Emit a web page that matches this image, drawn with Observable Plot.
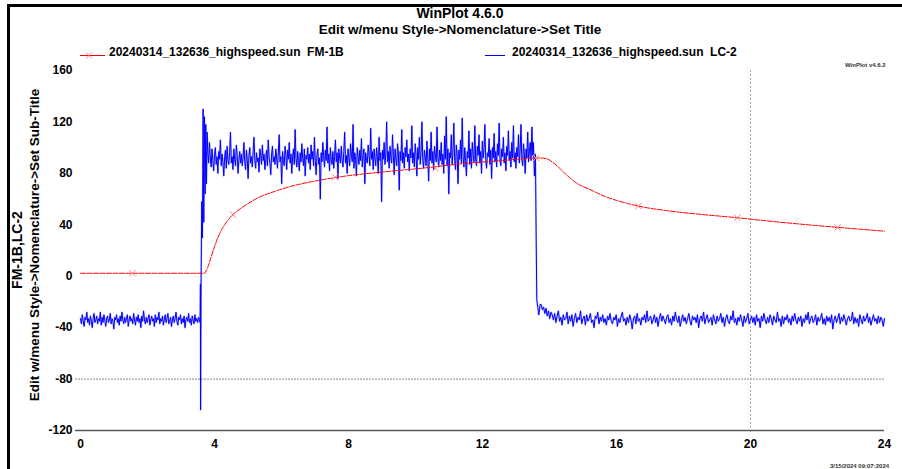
<!DOCTYPE html>
<html><head><meta charset="utf-8">
<script src="https://cdn.jsdelivr.net/npm/d3@7"></script>
<script src="https://cdn.jsdelivr.net/npm/@observablehq/plot@0.6"></script>
<style>
body{margin:0;background:#fff;}
#wrap{position:relative;width:902px;height:469px;overflow:hidden;background:#fff;font-family:"Liberation Sans",Arial,sans-serif;font-weight:bold;color:#000;}
.abs{position:absolute;white-space:pre;}
</style></head><body>
<div id="wrap">
  <div id="chart" class="abs" style="left:0;top:0"></div>
  <div class="abs" style="left:7px;top:4px;width:3px;height:470px;background:#000"></div>
  <div class="abs" style="left:7px;top:4px;width:900px;height:3px;background:#000"></div>
  <div id="title" class="abs" style="left:0;width:920px;top:5px;text-align:center;font-size:14px"></div>
  <div id="subtitle" class="abs" style="left:0;width:920px;top:22px;text-align:center;font-size:13.5px"></div>
  <div id="legend"></div>
  <div id="ylab1" class="abs" style="left:17px;top:250px;transform:translate(-50%,-50%) rotate(-90deg);font-size:14px"></div>
  <div id="ylab2" class="abs" style="left:34px;top:245px;transform:translate(-50%,-50%) rotate(-90deg);font-size:13.5px"></div>
  <div id="ver" class="abs" style="left:845px;top:62px;font-size:6px;color:#333"></div>
  <div id="stamp" class="abs" style="left:830px;top:463px;font-size:6px;color:#333"></div>
</div>
<script>
// ---------- texts ----------
const titleText = "WinPlot 4.6.0";
const subtitleText = "Edit w/menu Style->Nomenclature->Set Title";
const yLabel1 = "FM-1B,LC-2";
const yLabel2 = "Edit w/menu Style->Nomenclature->Set Sub-Title";
const versionText = "WinPlot v4.6.2";
const stampText = "3/15/2024 09:07:2024";
const seriesNames = ["20240314_132636_highspeed.sun  FM-1B", "20240314_132636_highspeed.sun  LC-2"];
const seriesColors = ["#ff0000", "#0000ff"];

// ---------- ticks / grid ----------
const xTicks = [0, 4, 8, 12, 16, 20, 24];
const yTicks = [160, 120, 80, 40, 0, -40, -80, -120];
const gridY = [-80];
const gridX = [20];
const baseY = [-120];

// ---------- FM-1B (red) ----------
const fm1bX = [0, 3.69, 3.8, 3.9, 4.0, 4.1, 4.2, 4.3, 4.45, 4.6, 4.8, 5.0, 5.3, 5.8, 6.3, 6.9, 7.8, 9.0, 10.2, 11.4, 12.6, 13.3, 13.65, 13.9, 14.1, 14.3, 14.5, 14.7, 14.9, 15.16, 15.4, 15.66, 16.0, 16.3, 16.66, 17.5, 18.56, 19.6, 20.5, 21.5, 22.6, 23.3, 24];
const fm1bY = [2.3, 2.3, 7, 15, 23, 30, 35.5, 40, 45, 49, 53, 56.5, 61, 66, 70, 73.5, 77.5, 81, 84, 87.5, 90, 91.5, 92, 91.5, 88.5, 84, 79, 74.5, 71, 68, 65, 62, 59, 56.8, 54.5, 51, 48, 45.5, 43, 40.5, 38, 36.5, 35];
const fm1bMarkX = [1.55, 4.55, 7.6, 10.6, 13.6, 16.65, 19.6, 22.6];
const fm1bMarkY = [2.3, 48, 77, 84, 92, 54.5, 45.5, 38];

// ---------- LC-2 (blue) ----------
const lc2PreRange = [0, 3.55];
const lc2Pre = [
  -33,-37,-30,-35,-39,-32,-34,-28,-36,-33, -38,-31,-35,-40,-33,-29,-36,-34,-31,-37,
  -33,-35,-28,-38,-32,-36,-30,-34,-39,-33, -31,-36,-34,-29,-37,-33,-35,-41,-32,-34,
  -30,-36,-33,-38,-31,-35,-28,-34,-37,-32, -36,-33,-30,-39,-34,-31,-35,-33,-37,-29,
  -34,-38,-32,-35,-30,-36,-33,-40,-31,-35, -27,-34,-37,-32,-36,-33,-30,-38,-34,-31,
  -35,-33,-39,-30,-36,-32,-34,-28,-37,-33, -35,-31,-38,-34,-30,-36,-33,-29,-37,-35,
  -32,-39,-34,-31,-36,-33,-28,-35,-38,-32, -34,-30,-37,-33,-36,-31,-40,-34,-32,-35,
  -29,-36,-33,-38,-31,-34,-37,-30,-35,-33, -36,-32,-34];
const lc2RiseX = [3.57, 3.58, 3.585, 3.6, 3.62, 3.64, 3.66, 3.68, 3.7, 3.72, 3.74, 3.76, 3.78];
const lc2RiseY = [-36, -6, -104, -2, 58, 30, 130, 42, 124, 64, 118, 72, 112];
const lc2PlateauRange = [3.8, 13.5];
const lc2Plateau = [
  96,88,104,92,85,99,90,82,94,100, 87,93,80,97,91,106,86,95,89,78, 92,98,84,101,90,87,96,112,88,93, 83,99,91,86,102,94,80,90,97,88,
  95,86,92,104,89,83,98,91,76,94, 100,88,93,85,97,108,90,84,96,89, 92,81,99,94,87,102,90,95,83,91, 98,86,106,92,88,79,95,101,89,93,
  87,99,92,84,96,110,89,93,72,97, 90,86,101,94,83,98,91,104,88,95, 80,93,99,87,114,92,85,97,90,82, 96,89,103,92,86,99,78,94,91,100,
  88,95,83,102,91,97,86,108,90,79, 94,99,87,92,60,96,89,104,93,85, 98,90,116,88,95,82,100,91,87,97, 84,93,106,89,96,76,99,92,88,101,
  90,85,97,112,88,94,80,99,92,86, 103,95,89,118,84,96,91,78,100,93, 87,98,90,107,85,94,99,72,96,90, 88,102,94,86,115,91,97,83,99,92,
  86,100,93,80,108,90,96,58,98,91, 104,87,95,120,89,97,84,101,92,88, 110,94,79,99,91,86,103,95,67,97, 90,114,88,96,84,100,93,106,89,95,
  82,99,92,117,88,96,85,103,94,78, 100,91,108,87,96,120,90,84,98,93, 86,105,92,74,99,90,112,88,97,83, 101,94,89,116,92,85,98,90,104,87,
  95,80,109,91,124,86,99,64,96,92, 110,87,97,119,90,83,102,94,72,98, 91,106,88,123,93,85,100,90,78,97, 92,113,87,99,84,104,95,89,117,91,
  86,101,94,110,88,97,80,105,92,99, 118,90,84,96,93,107,87,98,76,100, 92,111,89,97,85,103,94,119,90,86, 99,93,108,88,96,82,101,94,113,90,
  97,85,104,92,117,89,96,84,100,93, 110,88,98,118,91,86,103,95,80,99, 92,112,89,97,104,90,116,94];
const lc2DropX = [13.52, 13.55, 13.58, 13.6, 13.62, 13.65, 13.68, 13.72];
const lc2DropY = [104, 78, 95, 36, -18, -24, -30, -22];
const lc2PostRange = [13.75, 24];
const lc2Post = [
  -22,-26,-24,-29,-25,-31,-27,-33,-28,-30, -34,-29,-36,-31,-27,-35,-32,-38,-30,-34,
  -33,-28,-37,-31,-35,-30,-39,-33,-29,-36, -32,-34,-27,-37,-33,-31,-38,-30,-35,-33,
  -29,-36,-34,-40,-31,-33,-28,-37,-32,-35, -30,-36,-33,-38,-31,-34,-29,-35,-37,-32,
  -34,-30,-39,-33,-36,-31,-28,-35,-33,-38, -32,-36,-30,-34,-41,-33,-31,-37,-29,-35,
  -33,-38,-32,-34,-30,-36,-27,-35,-33,-31, -37,-34,-30,-36,-32,-39,-33,-29,-35,-31,
  -34,-37,-32,-30,-36,-33,-38,-31,-35,-28, -33,-36,-31,-39,-34,-30,-35,-32,-37,-33,
  -29,-35,-38,-31,-34,-32,-36,-30,-40,-33, -31,-35,-28,-37,-33,-30,-36,-34,-32,-38,
  -30,-34,-37,-31,-35,-33,-29,-36,-32,-39, -33,-30,-35,-37,-31,-34,-27,-36,-33,-38,
  -32,-35,-30,-34,-39,-31,-36,-33,-29,-37, -34,-31,-36,-32,-38,-30,-35,-33,-40,-31,
  -35,-29,-34,-37,-32,-36,-30,-33,-38,-31, -34,-36,-28,-35,-33,-39,-31,-37,-32,-34,
  -30,-36,-33,-38,-31,-35,-29,-34,-37,-32, -35,-31,-39,-33,-36,-30,-34,-28,-37,-33,
  -31,-36,-34,-30,-38,-32,-35,-33,-29,-37, -33,-38,-31,-35,-32,-36,-30,-41,-34,-31,
  -36,-33,-29,-37,-32,-35,-30,-34,-38,-33, -31,-35,-34,-28,-37,-32,-36,-33,-39,-30,
  -34,-37,-31,-35,-33,-29,-36,-32,-38,-34, -30,-35,-33,-37,-31,-36,-32,-34,-39,-33];

// ---------- build tables ----------
function seg(range, vals) {
  const n = vals.length;
  return vals.map((y, i) => ({x: range[0] + (range[1] - range[0]) * i / (n - 1), y}));
}
function pairs(xs, ys) { return xs.map((x, i) => ({x, y: ys[i]})); }
const lc2Data = [
  ...seg(lc2PreRange, lc2Pre),
  ...pairs(lc2RiseX, lc2RiseY),
  ...seg(lc2PlateauRange, lc2Plateau),
  ...pairs(lc2DropX, lc2DropY),
  ...seg(lc2PostRange, lc2Post)
];
const fm1bData = pairs(fm1bX, fm1bY);
const fm1bMarks = pairs(fm1bMarkX, fm1bMarkY);

// ---------- texts into DOM ----------
document.getElementById("title").textContent = titleText;
document.getElementById("subtitle").textContent = subtitleText;
document.getElementById("ylab1").textContent = yLabel1;
document.getElementById("ylab2").textContent = yLabel2;
document.getElementById("ver").textContent = versionText;
document.getElementById("stamp").textContent = stampText;

// legend
const legendPos = [{sx: 80, w: 25, tx: 109}, {sx: 485, w: 20, tx: 512}];
const legend = document.getElementById("legend");
seriesNames.forEach((name, i) => {
  const sw = document.createElement("div");
  sw.className = "abs";
  sw.style.left = legendPos[i].sx + "px";
  sw.style.top = "47px";
  const mark = i === 0 ? '<path d="M6,2.5L12,8.5M12,2.5L6,8.5" stroke="#ff8080" stroke-width="1"/>' : '';
  sw.innerHTML = `<svg width="${legendPos[i].w}" height="11"><line x1="0" x2="${legendPos[i].w}" y1="5.5" y2="5.5" stroke="${seriesColors[i]}" stroke-width="1"/>${mark}</svg>`;
  legend.appendChild(sw);
  const t = document.createElement("div");
  t.className = "abs";
  t.style.left = legendPos[i].tx + "px";
  t.style.top = "45px";
  t.style.fontSize = "12px";
  t.textContent = name;
  legend.appendChild(t);
});

// ---------- plot ----------
const chart = Plot.plot({
  width: 902,
  height: 469,
  marginTop: 70,
  marginBottom: 39,
  marginLeft: 80,
  marginRight: 18,
  x: {domain: [0, 24]},
  y: {domain: [-120, 160]},
  style: {fontFamily: '"Liberation Sans", Arial, sans-serif', fontSize: "12px", fontWeight: "bold", color: "#000", background: "transparent"},
  marks: [
    Plot.ruleY(gridY, {stroke: "#888", strokeDasharray: "2,1", insetLeft: -5}),
    Plot.ruleX(gridX, {stroke: "#aaa", strokeDasharray: "2,2", insetBottom: -4}),
    Plot.ruleY(baseY, {stroke: "#555", strokeWidth: 1.5, insetLeft: -5}),
    Plot.line(lc2Data, {x: "x", y: "y", stroke: "#6f6fff", strokeWidth: 2, strokeOpacity: 0.35}),
    Plot.line(lc2Data, {x: "x", y: "y", stroke: seriesColors[1], strokeWidth: 1}),
    Plot.line(fm1bData, {x: "x", y: "y", stroke: seriesColors[0], strokeWidth: 1, curve: "monotone-x", strokeDasharray: "5,1.5"}),
    Plot.dot(fm1bMarks, {x: "x", y: "y", symbol: "times", r: 3, stroke: "#ff8080", strokeWidth: 1}),
    Plot.axisX({ticks: xTicks, tickSize: 0, tickPadding: 9, label: null, tickFormat: d => String(d)}),
    Plot.axisY({ticks: yTicks, tickSize: 0, tickPadding: 8, label: null, tickFormat: d => String(d)})
  ]
});
document.getElementById("chart").appendChild(chart);
</script>
</body></html>
